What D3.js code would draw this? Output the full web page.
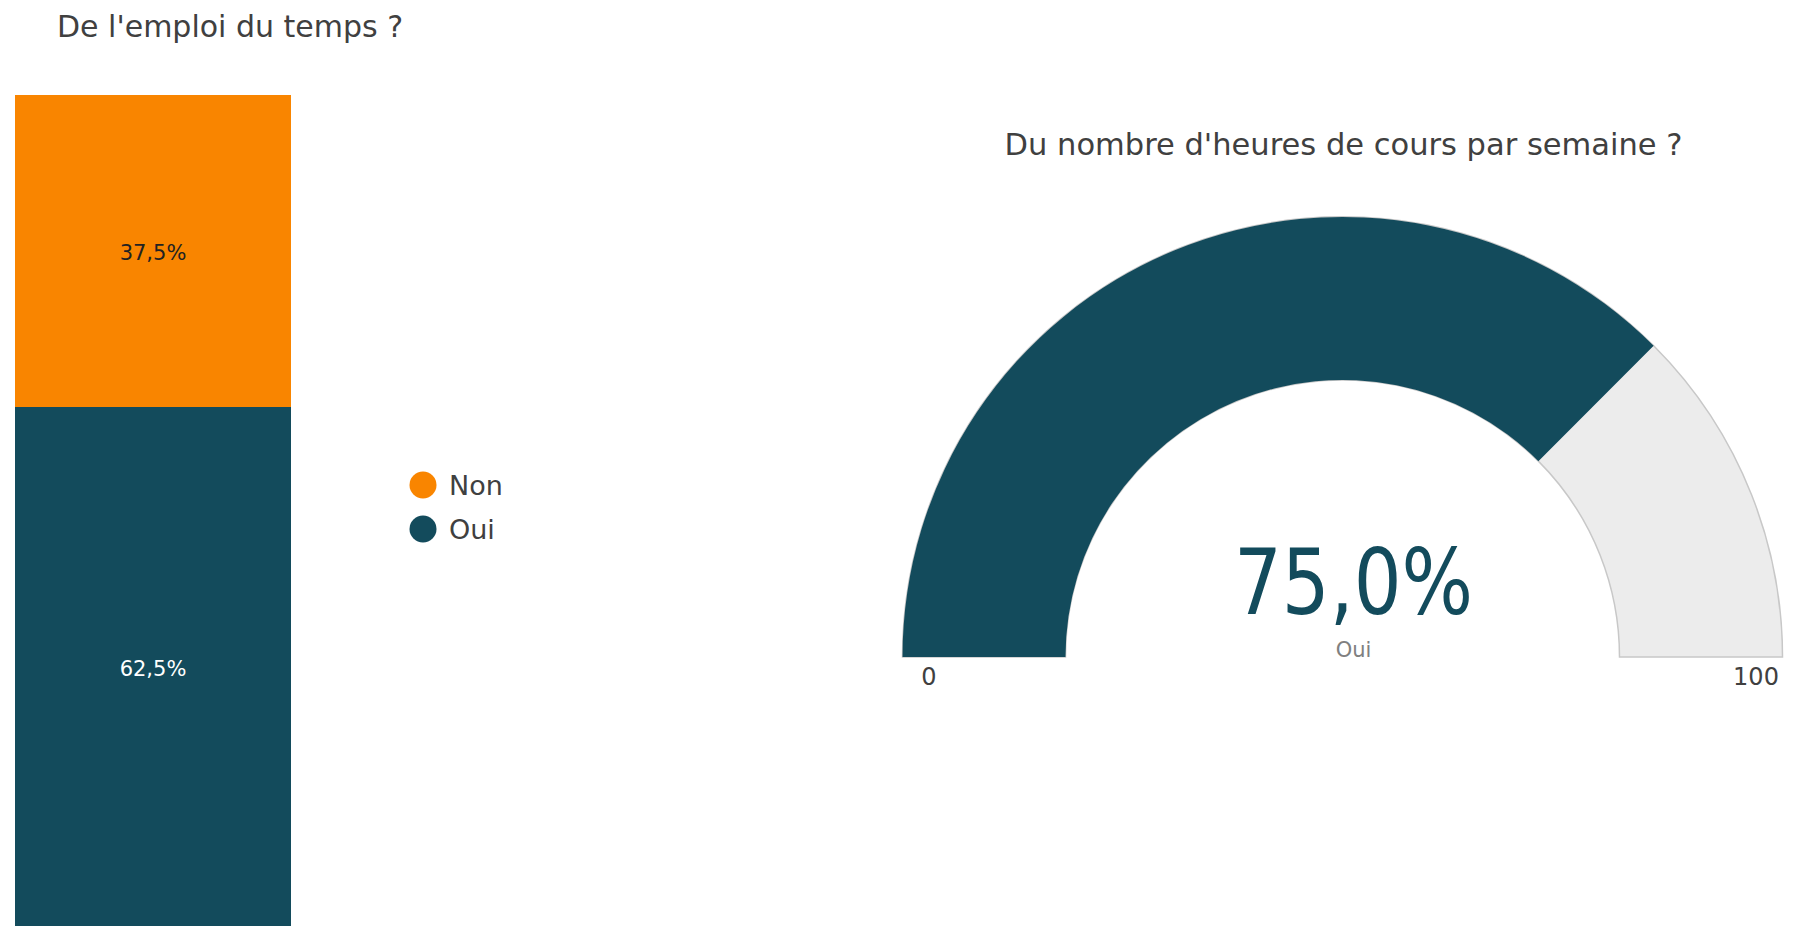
<!DOCTYPE html>
<html><head><meta charset="utf-8">
<script src="https://cdn.jsdelivr.net/npm/d3@7"></script>
<style>
html,body{margin:0;padding:0;background:#fff;}
svg{display:block;font-family:"DejaVu Sans","Noto Sans",sans-serif;}
</style></head>
<body>
<svg id="c" width="1794" height="926"></svg>
<script>
// Chart 1: stacked bar
const barTitle = "De l'emploi du temps ?";
const barCategories = ["Oui", "Non"];           // stacking order bottom -> top
const barValues = [62.5, 37.5];                  // percentages
const legendOrder = ["Non", "Oui"];
const colors = {Non: "#F98500", Oui: "#134B5C"};
const labelColors = {Non: "#222222", Oui: "#FFFFFF"};

// Chart 2: gauge
const gaugeTitle = "Du nombre d'heures de cours par semaine ?";
const gaugeLabel = "Oui";
const gaugeValue = 75.0;
const gaugeMin = 0, gaugeMax = 100;
const gaugeTickLabels = ["0", "100"];

const svg = d3.select("#c");
const fmt = v => d3.format(".1f")(v).replace(".", ",") + "%";

// ---- Stacked bar ----
svg.append("text").attr("x", 57).attr("y", 37)
  .attr("font-size", 30).attr("fill", "#404040").text(barTitle);

const x = d3.scaleBand().domain(["all"]).range([15, 291]).padding(0);
const y = d3.scaleLinear().domain([0, 100]).range([927, 95]);

let acc = 0;
const stack = barCategories.map((c, i) => {
  const s = {cat: c, v: barValues[i], y0: acc, y1: acc + barValues[i]};
  acc += barValues[i];
  return s;
});
const bars = svg.append("g");
bars.selectAll("rect").data(stack).join("rect")
  .attr("x", x("all")).attr("width", x.bandwidth())
  .attr("y", d => y(d.y1)).attr("height", d => y(d.y0) - y(d.y1))
  .attr("fill", d => colors[d.cat]);
bars.selectAll("text").data(stack).join("text")
  .attr("x", x("all") + x.bandwidth() / 2)
  .attr("y", d => y((d.y0 + d.y1) / 2) + 2)
  .attr("dy", "0.35em").attr("text-anchor", "middle")
  .attr("font-size", 21).attr("fill", d => labelColors[d.cat])
  .text(d => fmt(d.v));

// legend
const leg = svg.append("g").selectAll("g").data(legendOrder).join("g")
  .attr("transform", (d, i) => `translate(423,${485 + i * 44})`);
leg.append("circle").attr("r", 13.5).attr("fill", d => colors[d]);
leg.append("text").attr("x", 26).attr("dy", "0.36em")
  .attr("font-size", 27).attr("fill", "#404040").text(d => d);

// ---- Gauge ----
const cx = 1342.5, cy = 657, rOuter = 440, rInner = 277;
svg.append("text").attr("x", cx + 1).attr("y", 155).attr("text-anchor", "middle")
  .attr("font-size", 30.5).attr("fill", "#404040").text(gaugeTitle);

const ang = d3.scaleLinear().domain([gaugeMin, gaugeMax]).range([-Math.PI / 2, Math.PI / 2]);
const arc = d3.arc().innerRadius(rInner).outerRadius(rOuter);
const g = svg.append("g").attr("transform", `translate(${cx},${cy})`);
g.append("path")
  .attr("d", arc({startAngle: ang(gaugeMin), endAngle: ang(gaugeMax)}))
  .attr("fill", "#ECECEC").attr("stroke", "#C8C8C8").attr("stroke-width", 1.5);
g.append("path")
  .attr("d", arc({startAngle: ang(gaugeMin), endAngle: ang(gaugeValue)}))
  .attr("fill", "#134B5C");

g.append("text").attr("x", 11).attr("y", 614 - cy).attr("text-anchor", "middle")
  .attr("font-size", 90).attr("fill", "#134B5C")
  .attr("textLength", 239).attr("lengthAdjust", "spacingAndGlyphs")
  .text(fmt(gaugeValue));
g.append("text").attr("x", 11).attr("y", 657 - cy).attr("text-anchor", "middle")
  .attr("font-size", 21).attr("fill", "#808080").text(gaugeLabel);

const tickPos = [{t: gaugeTickLabels[0], x: 929}, {t: gaugeTickLabels[1], x: 1756}];
svg.append("g").selectAll("text").data(tickPos).join("text")
  .attr("x", d => d.x).attr("y", 685).attr("text-anchor", "middle")
  .attr("font-size", 24).attr("fill", "#404040").text(d => d.t);
</script>
</body></html>
